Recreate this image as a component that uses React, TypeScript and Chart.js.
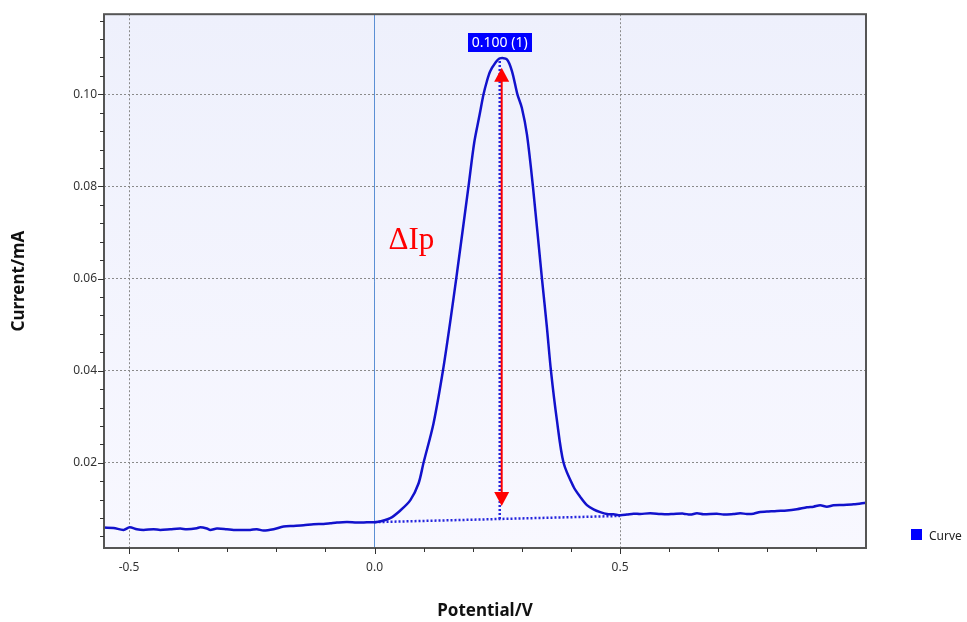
import React, { useEffect, useRef } from "react";
import { Chart, registerables } from "chart.js";

Chart.register(...registerables);

// Differential pulse voltammogram: potential (V) vs current (mA)
const POTENTIAL = [
  -0.551, -0.5315, -0.5111, -0.4989, -0.484, -0.4704, -0.45, -0.4365, -0.4161, -0.3957,
  -0.3822, -0.3618, -0.355, -0.3414, -0.3346, -0.321, -0.3007, -0.2871, -0.2532, -0.2396,
  -0.226, -0.2056, -0.1853, -0.1649, -0.1445, -0.1242, -0.1038, -0.0902, -0.0766, -0.0563,
  -0.0359, -0.0155, 0.0048, 0.032, 0.052, 0.073, 0.0896, 0.0998, 0.12, 0.1393,
  0.154, 0.1664, 0.1914, 0.203, 0.2139, 0.222, 0.229, 0.2356, 0.2458, 0.255,
  0.2696, 0.28, 0.291, 0.3, 0.3104, 0.3226, 0.341, 0.351, 0.3593, 0.3715,
  0.385, 0.4053, 0.4189, 0.4326, 0.446, 0.4597, 0.4733, 0.4868, 0.5004, 0.514,
  0.5276, 0.5411, 0.5615, 0.5819, 0.5955, 0.609, 0.6294, 0.643, 0.6566, 0.6701,
  0.6973, 0.7109, 0.7312, 0.7448, 0.7584, 0.772, 0.7855, 0.7991, 0.8195, 0.8398,
  0.8602, 0.8806, 0.8941, 0.9077, 0.9213, 0.9348, 0.9552, 0.9756, 1.001,
];
const CURRENT = [
  0.00593, 0.00586, 0.00543, 0.006, 0.00557, 0.00543, 0.00557, 0.00543, 0.00557, 0.00572,
  0.00557, 0.00579, 0.006, 0.00572, 0.00543, 0.00572, 0.00557, 0.00543, 0.00543, 0.00557,
  0.00528, 0.00557, 0.00615, 0.00629, 0.00644, 0.00666, 0.00673, 0.00687, 0.00702, 0.00716,
  0.00702, 0.00709, 0.00716, 0.008, 0.0096, 0.0119, 0.0155, 0.02, 0.0285, 0.04,
  0.0505, 0.06, 0.08, 0.0895, 0.0955, 0.1, 0.1029, 0.105, 0.1068, 0.1078,
  0.1076, 0.105, 0.1, 0.0971, 0.0913, 0.08, 0.06, 0.0495, 0.04, 0.0292,
  0.02, 0.0148, 0.0126, 0.0108, 0.0099, 0.0093, 0.00889, 0.00882, 0.0086, 0.00875,
  0.00896, 0.00889, 0.00904, 0.00889, 0.00882, 0.00889, 0.00896, 0.00875, 0.00904, 0.00882,
  0.00896, 0.00875, 0.00889, 0.00904, 0.00889, 0.00896, 0.00933, 0.0094, 0.00954, 0.00962,
  0.0099, 0.01034, 0.01048, 0.01077, 0.01048, 0.01077, 0.01084, 0.01098, 0.01134,
];

// Peak baseline (dotted tangent) and peak height
const BASELINE_X = [0.0, 0.5];
const BASELINE_Y = [0.00711, 0.00846];
const PEAK_X = 0.255;
const PEAK_HEIGHT = 0.1;
const PEAK_INDEX = 1;

// Red ΔIp arrow (x position and tip values)
const ARROW_X = 0.259;
const ARROW_Y = [0.0106, 0.1058];
const DELTA_LABEL = "ΔIp";
const DELTA_POS = [0.0285, 0.0664];

// Axis ranges and ticks
const X_MIN = -0.551;
const X_MAX = 1.001;
const Y_MIN = 0.0015;
const Y_MAX = 0.1174;
const X_MAJOR = [-0.5, 0, 0.5];
const X_MINOR = [-0.4, -0.3, -0.2, -0.1, 0.1, 0.2, 0.3, 0.4, 0.6, 0.7, 0.8, 0.9];
const Y_MAJOR = [0.02, 0.04, 0.06, 0.08, 0.1];
const Y_MINOR = [
  0.004, 0.008, 0.012, 0.016, 0.024, 0.028, 0.032, 0.036, 0.044, 0.048, 0.052, 0.056,
  0.064, 0.068, 0.072, 0.076, 0.084, 0.088, 0.092, 0.096, 0.104, 0.108, 0.112, 0.116,
];

const SERIES_NAME = "Curve";
const CURVE_COLOR = "#1212cc";
const DOT_COLOR = "#2424dd";
const FONT = "'Noto Sans', sans-serif";

function baselineAt(x: number): number {
  const t = (x - BASELINE_X[0]) / (BASELINE_X[1] - BASELINE_X[0]);
  return BASELINE_Y[0] + t * (BASELINE_Y[1] - BASELINE_Y[0]);
}

const decorations = {
  id: "decorations",
  beforeDraw(chart: any) {
    const { ctx, chartArea: a } = chart;
    const g = ctx.createLinearGradient(0, a.top, 0, a.bottom);
    g.addColorStop(0, "#eef0fc");
    g.addColorStop(1, "#f8f8ff");
    ctx.save();
    ctx.fillStyle = g;
    ctx.fillRect(a.left, a.top, a.right - a.left, a.bottom - a.top);
    ctx.restore();
  },
  afterDatasetsDraw(chart: any) {
    const { ctx, chartArea: a, scales } = chart;
    const xs = scales.x;
    const ys = scales.y;
    ctx.save();

    // frame
    ctx.strokeStyle = "#555";
    ctx.lineWidth = 2;
    ctx.strokeRect(a.left, a.top, a.right - a.left, a.bottom - a.top);

    // tick marks
    ctx.strokeStyle = "#333";
    ctx.lineWidth = 1;
    ctx.beginPath();
    const xt = (v: number, len: number) => {
      const px = Math.round(xs.getPixelForValue(v)) + 0.5;
      ctx.moveTo(px, a.bottom);
      ctx.lineTo(px, a.bottom + len);
    };
    const yt = (v: number, len: number) => {
      const py = Math.round(ys.getPixelForValue(v)) + 0.5;
      ctx.moveTo(a.left, py);
      ctx.lineTo(a.left - len, py);
    };
    X_MAJOR.forEach((v) => xt(v, 6));
    X_MINOR.forEach((v) => xt(v, 4));
    Y_MAJOR.forEach((v) => yt(v, 6));
    Y_MINOR.forEach((v) => yt(v, 4));
    ctx.stroke();

    // red arrow
    const ax = xs.getPixelForValue(ARROW_X);
    const yb = ys.getPixelForValue(ARROW_Y[0]);
    const yt2 = ys.getPixelForValue(ARROW_Y[1]);
    const hw = 7.5;
    const hh = 14;
    ctx.strokeStyle = "#ff0000";
    ctx.fillStyle = "#ff0000";
    ctx.lineWidth = 2;
    ctx.beginPath();
    ctx.moveTo(ax, yb - hh + 1);
    ctx.lineTo(ax, yt2 + hh - 1);
    ctx.stroke();
    ctx.beginPath();
    ctx.moveTo(ax, yt2);
    ctx.lineTo(ax - hw, yt2 + hh);
    ctx.lineTo(ax + hw, yt2 + hh);
    ctx.closePath();
    ctx.fill();
    ctx.beginPath();
    ctx.moveTo(ax, yb);
    ctx.lineTo(ax - hw, yb - hh);
    ctx.lineTo(ax + hw, yb - hh);
    ctx.closePath();
    ctx.fill();

    // ΔIp text
    ctx.font = "31px 'Liberation Serif', serif";
    ctx.textAlign = "left";
    ctx.textBaseline = "alphabetic";
    ctx.fillText(DELTA_LABEL, xs.getPixelForValue(DELTA_POS[0]), ys.getPixelForValue(DELTA_POS[1]));

    // peak value label
    const peakTop = baselineAt(PEAK_X) + PEAK_HEIGHT;
    const px = xs.getPixelForValue(PEAK_X);
    const py = ys.getPixelForValue(peakTop);
    const text = `${PEAK_HEIGHT.toFixed(3)} (${PEAK_INDEX})`;
    ctx.font = `14px ${FONT}`;
    const tw = ctx.measureText(text).width;
    const bw = tw + 8;
    const bh = 19;
    const by = py - 6 - bh;
    ctx.fillStyle = "#0000ff";
    ctx.fillRect(Math.round(px - bw / 2), Math.round(by), Math.round(bw), bh);
    ctx.fillStyle = "#ffffff";
    ctx.textAlign = "center";
    ctx.textBaseline = "middle";
    ctx.fillText(text, px, by + bh / 2 + 0.5);

    // legend
    const lx = a.right + 45;
    const ly = ys.getPixelForValue(ys.min) - 13;
    ctx.fillStyle = "#0000ff";
    ctx.fillRect(lx, ly - 6, 11, 11);
    ctx.fillStyle = "#222";
    ctx.font = `12px ${FONT}`;
    ctx.textAlign = "left";
    ctx.textBaseline = "middle";
    ctx.fillText(chart.data.datasets[0].label, lx + 18, ly + 2);

    ctx.restore();
  },
};

export default function App() {
  const canvasRef = useRef<HTMLCanvasElement | null>(null);

  useEffect(() => {
    const canvas = canvasRef.current;
    if (!canvas) return;
    Chart.defaults.font.family = FONT;

    const curve = POTENTIAL.map((x, i) => ({ x, y: CURRENT[i] }));
    const baseline = BASELINE_X.map((x, i) => ({ x, y: BASELINE_Y[i] }));
    const b0 = baselineAt(PEAK_X);
    const drop = [
      { x: PEAK_X, y: b0 },
      { x: PEAK_X, y: b0 + PEAK_HEIGHT },
    ];

    const chart = new Chart(canvas, {
      type: "line",
      data: {
        datasets: [
          {
            label: SERIES_NAME,
            data: curve,
            borderColor: CURVE_COLOR,
            backgroundColor: CURVE_COLOR,
            borderWidth: 2.5,
            pointRadius: 0,
            tension: 0.3,
            order: 1,
          },
          {
            label: "baseline",
            data: baseline,
            borderColor: DOT_COLOR,
            borderWidth: 2.5,
            borderDash: [2, 2],
            pointRadius: 0,
            order: 2,
          },
          {
            label: "peak",
            data: drop,
            borderColor: DOT_COLOR,
            borderWidth: 2.5,
            borderDash: [2, 2],
            pointRadius: 0,
            order: 2,
          },
        ],
      },
      options: {
        responsive: false,
        animation: false,
        parsing: false,
        layout: { padding: { top: 13, right: 101, left: 0, bottom: 0 } },
        plugins: {
          legend: { display: false },
          tooltip: { enabled: false },
        },
        scales: {
          x: {
            type: "linear",
            min: X_MIN,
            max: X_MAX,
            afterBuildTicks: (s: any) => {
              s.ticks = X_MAJOR.map((v) => ({ value: v }));
            },
            afterFit: (s: any) => {
              s.height = 74;
            },
            grid: {
              color: (c: any) => (c.tick && c.tick.value === 0 ? "#5b8fd4" : "#8a8a8a"),
              lineWidth: 1,
              drawTicks: false,
            },
            border: {
              display: false,
              dash: (c: any) => (c.tick && c.tick.value === 0 ? [] : [2, 2]),
            },
            ticks: {
              autoSkip: false,
              maxRotation: 0,
              padding: 12,
              color: "#333",
              font: { size: 12 },
              callback: (v: any) => Number(v).toFixed(1),
            },
            title: {
              display: true,
              text: "Potential/V",
              color: "#111",
              font: { size: 17, weight: "bold" },
              padding: { top: 0, bottom: 1 },
            },
          },
          y: {
            type: "linear",
            min: Y_MIN,
            max: Y_MAX,
            afterBuildTicks: (s: any) => {
              s.ticks = Y_MAJOR.map((v) => ({ value: v }));
            },
            afterFit: (s: any) => {
              s.width = 104;
            },
            grid: { color: "#8a8a8a", lineWidth: 1, drawTicks: false },
            border: { display: false, dash: [2, 2] },
            ticks: {
              autoSkip: false,
              padding: 7,
              color: "#333",
              font: { size: 12 },
              callback: (v: any) => Number(v).toFixed(2),
            },
            title: {
              display: true,
              text: "Current/mA",
              color: "#111",
              font: { size: 17, weight: "bold" },
              padding: { top: 9, bottom: 0 },
            },
          },
        },
      },
      plugins: [decorations],
    } as any);

    return () => chart.destroy();
  }, []);

  return (
    <div style={{ position: "absolute", left: 0, top: 0, width: 967, height: 622, background: "#fff" }}>
      <canvas ref={canvasRef} width={967} height={622} style={{ display: "block" }} />
    </div>
  );
}
